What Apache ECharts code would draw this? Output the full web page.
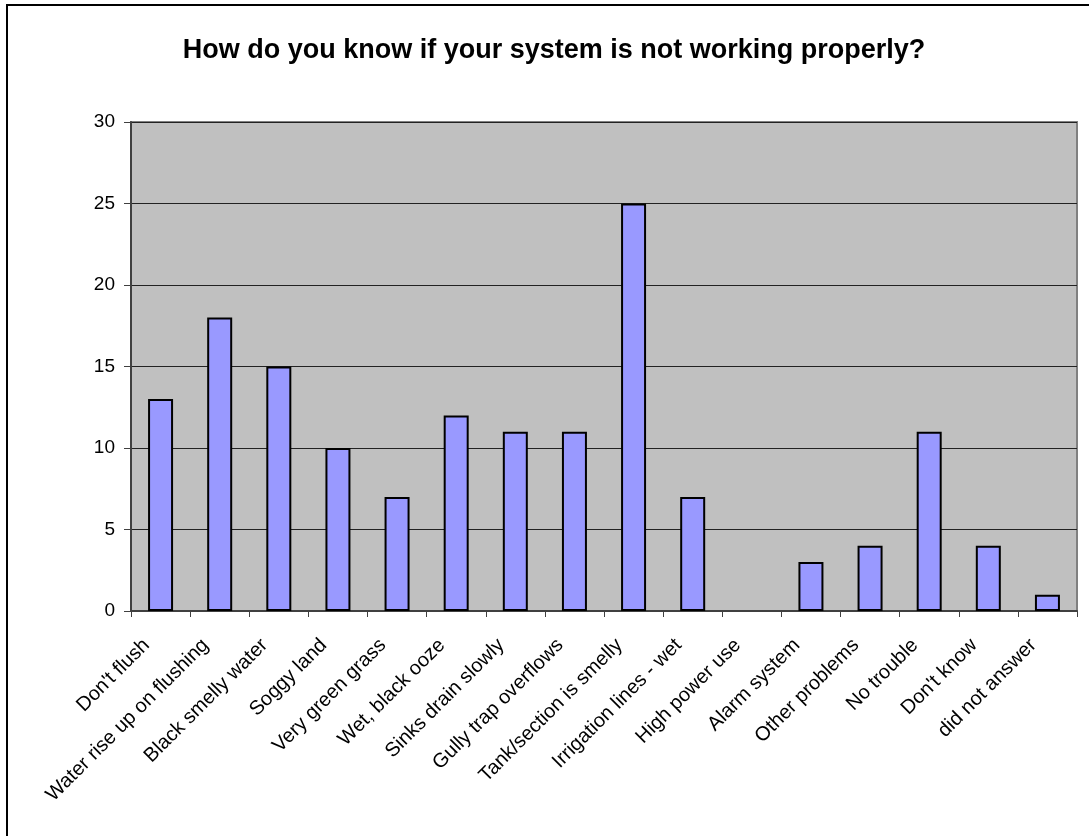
<!DOCTYPE html>
<html>
<head>
<meta charset="utf-8">
<script src="https://cdn.jsdelivr.net/npm/echarts@6/dist/echarts.min.js"></script>
<style>
  html, body { margin: 0; padding: 0; background: #fff; }
  #chart { width: 1089px; height: 836px; }
</style>
</head>
<body>
<div id="chart"></div>
<script>
'use strict';

// categories and counts
var categories = [
    "Don't flush", 'Water rise up on flushing', 'Black smelly water', 'Soggy land',
    'Very green grass', 'Wet, black ooze', 'Sinks drain slowly', 'Gully trap overflows',
    'Tank/section is smelly', 'Irrigation lines - wet', 'High power use', 'Alarm system',
    'Other problems', 'No trouble', "Don't know", 'did not answer'
];
var counts = [13, 18, 15, 10, 7, 12, 11, 11, 25, 7, 0, 3, 4, 11, 4, 1];

var font = 'Liberation Sans, Arial, sans-serif';

var myChart = echarts.init(document.getElementById('chart'));

// zero answers draw no bar at all
var barData = counts.map(function (v) {
    return v === 0 ? '-' : v;
});

var option = {
    animation: false,
    title: {
        text: 'How do you know if your system is not working properly?',
        left: 549,
        textAlign: 'center',
        top: 32,
        textStyle: { fontFamily: font, fontSize: 27, fontWeight: 'bold', color: '#000' }
    },
    // outer frame, cut off on right and bottom
    graphic: [{
        type: 'rect',
        shape: { x: 7, y: 5, width: 1300, height: 1000 },
        style: { fill: 'none', stroke: '#000', lineWidth: 2 },
        silent: true
    }],
    grid: {
        left: 131,
        top: 122,
        width: 946,
        height: 489,
        show: true,
        backgroundColor: '#c0c0c0',
        borderColor: '#808080',
        borderWidth: 2
    },
    xAxis: {
        type: 'category',
        data: categories,
        axisLine: { lineStyle: { color: '#404040', width: 2 } },
        axisTick: { show: true, length: 6, alignWithLabel: false, lineStyle: { color: '#404040', width: 1 } },
        axisLabel: {
            interval: 0,
            rotate: 45,
            margin: 17,
            padding: [0, 20, 0, 0],
            fontFamily: font,
            fontSize: 20,
            color: '#000'
        }
    },
    yAxis: {
        type: 'value',
        min: 0,
        max: 30,
        interval: 5,
        axisLine: { show: true, lineStyle: { color: '#404040', width: 2 } },
        axisTick: { show: true, length: 7, lineStyle: { color: '#404040', width: 1 } },
        axisLabel: { fontFamily: font, fontSize: 19, color: '#000', margin: 16 },
        splitLine: { lineStyle: { color: '#222', width: 1 } }
    },
    series: [{
        type: 'bar',
        data: barData,
        barWidth: 25,
        itemStyle: { color: '#9999ff', borderColor: '#000', borderWidth: 2 }
    }]
};

myChart.setOption(option);
</script>
</body>
</html>
